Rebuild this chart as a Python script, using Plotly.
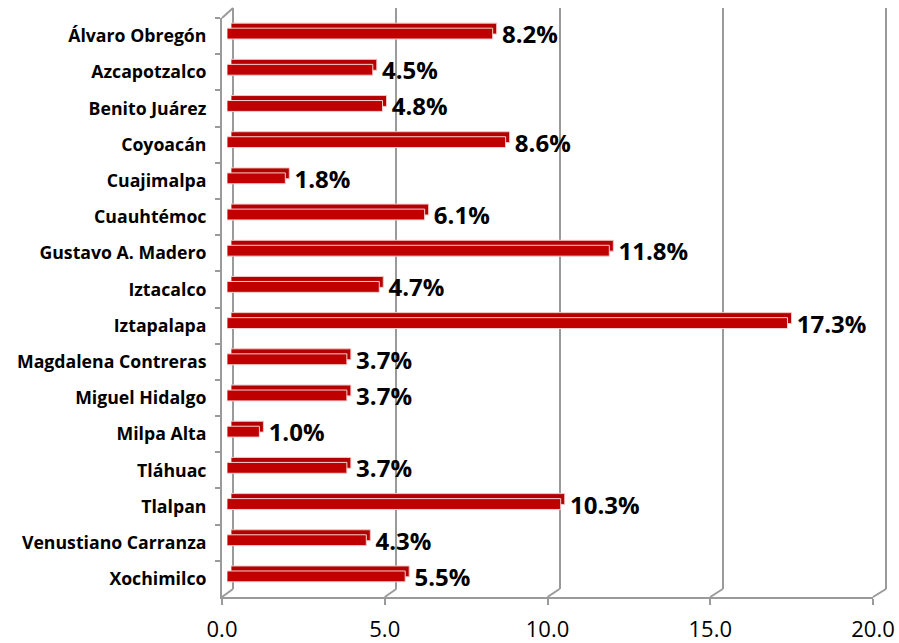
import plotly.graph_objects as go

categories = ["Álvaro Obregón", "Azcapotzalco", "Benito Juárez", "Coyoacán", "Cuajimalpa",
              "Cuauhtémoc", "Gustavo A. Madero", "Iztacalco", "Iztapalapa", "Magdalena Contreras",
              "Miguel Hidalgo", "Milpa Alta", "Tláhuac", "Tlalpan", "Venustiano Carranza", "Xochimilco"]
values = [8.2, 4.5, 4.8, 8.6, 1.8, 6.1, 11.8, 4.7, 17.3, 3.7, 3.7, 1.0, 3.7, 10.3, 4.3, 5.5]
x_ticks = [0, 5, 10, 15, 20]
x_ticktext = ["0.0", "5.0", "10.0", "15.0", "20.0"]

W, H = 899, 643
GRAY = "#9a9a9a"
FONT = "Open Sans"


def xd(a, b):
    return [a / W, b / W]


def yd(top, bottom):
    return [1 - bottom / H, 1 - top / H]


# planes (pixel geometry of the pseudo-3D chart)
front = dict(x0=222, x1=873, top=18, bottom=597)
back = dict(x0=233, x1=886, top=8, bottom=589)
bars = dict(x0=227, x1=875, top=15.5, bottom=594.5)
depth = dict(x0=231, x1=879, top=10.5, bottom=589.5)

n = len(categories)
yrange = [n - 0.5, -0.5]

fig = go.Figure()

# empty traces so that the back-plane (grid) and front-plane (axes) subplots are drawn
fig.add_trace(go.Scatter(x=[], y=[], xaxis="x", yaxis="y", showlegend=False, hoverinfo="skip"))
fig.add_trace(go.Scatter(x=[], y=[], xaxis="x2", yaxis="y2", showlegend=False, hoverinfo="skip"))

# extruded depth (back copy of the bars)
fig.add_trace(go.Bar(
    x=values, y=categories, orientation="h", width=0.30,
    marker=dict(color="#b40000", line=dict(color="#f3c6c6", width=1)),
    xaxis="x3", yaxis="y3", hoverinfo="skip", showlegend=False,
))
# front faces of the bars with value labels
fig.add_trace(go.Bar(
    x=values, y=categories, orientation="h", width=0.30,
    marker=dict(color="#c00000", line=dict(color="#f6d0d0", width=1)),
    texttemplate="\u00a0%{x:.1f}%", textposition="outside",
    textfont=dict(family=FONT, size=24, color="black", weight="bold"),
    constraintext="none", cliponaxis=False,
    xaxis="x4", yaxis="y4", showlegend=False,
))

s_back = (back["x1"] - back["x0"]) / 20
ext = 0.3
cat_axis = dict(type="category", categoryorder="array", categoryarray=categories, range=yrange)
layout = dict(
    width=W, height=H,
    margin=dict(l=0, r=0, t=0, b=0, pad=0, autoexpand=False),
    paper_bgcolor="white", plot_bgcolor="rgba(0,0,0,0)",
    showlegend=False,
    xaxis=dict(domain=xd(back["x0"] - s_back * ext, back["x1"] + s_back * ext),
               range=[-ext, 20 + ext], tickvals=x_ticks, showticklabels=False,
               showgrid=True, gridcolor=GRAY, gridwidth=2, zeroline=False,
               showline=False, ticks="", anchor="y", automargin=False),
    yaxis=dict(domain=yd(back["top"], back["bottom"]), range=[0, 1],
               showgrid=False, zeroline=False, showticklabels=False, showline=False,
               ticks="", anchor="x", automargin=False),
    xaxis2=dict(domain=xd(front["x0"], front["x1"]), range=[0, 20], tickvals=x_ticks,
                ticktext=x_ticktext, showgrid=False, zeroline=False, showline=True,
                linecolor=GRAY, linewidth=2, ticks="outside", ticklen=6, tickwidth=2,
                tickcolor=GRAY, tickfont=dict(family=FONT, size=22, color="black"),
                ticklabelstandoff=6, anchor="y2", automargin=False),
    yaxis2=dict(domain=yd(front["top"], front["bottom"]), **cat_axis,
                showgrid=False, zeroline=False, showline=True, linecolor=GRAY, linewidth=2,
                ticks="outside", tickson="boundaries", ticklen=5, tickwidth=2, tickcolor=GRAY,
                tickfont=dict(family=FONT, size=17.7, color="black", weight="bold"),
                ticklabelstandoff=10, anchor="x2", automargin=False),
    xaxis3=dict(domain=xd(depth["x0"], depth["x1"]), range=[0, 20], visible=False,
                anchor="y3", automargin=False),
    yaxis3=dict(domain=yd(depth["top"], depth["bottom"]), **cat_axis, visible=False,
                anchor="x3", automargin=False),
    xaxis4=dict(domain=xd(bars["x0"], bars["x1"]), range=[0, 20], visible=False,
                anchor="y4", automargin=False),
    yaxis4=dict(domain=yd(bars["top"], bars["bottom"]), **cat_axis, visible=False,
                anchor="x4", automargin=False),
)
fig.update_layout(**layout)

# perspective connectors between front and back planes
s_front = (front["x1"] - front["x0"]) / 20
shapes = []
for v in x_ticks:
    fx = front["x0"] + s_front * v
    bx = back["x0"] + s_back * v
    shapes.append(dict(type="line", xref="paper", yref="paper",
                       x0=fx / W, y0=1 - front["bottom"] / H,
                       x1=bx / W, y1=1 - back["bottom"] / H,
                       line=dict(color=GRAY, width=2)))
shapes.append(dict(type="line", xref="paper", yref="paper",
                   x0=front["x0"] / W, y0=1 - front["top"] / H,
                   x1=back["x0"] / W, y1=1 - back["top"] / H,
                   line=dict(color=GRAY, width=2)))
fig.update_layout(shapes=shapes)

fig.write_html(
    "out.html",
    config={"displayModeBar": False},
    post_script="document.body.style.margin='0';document.body.style.overflow='hidden';",
)
